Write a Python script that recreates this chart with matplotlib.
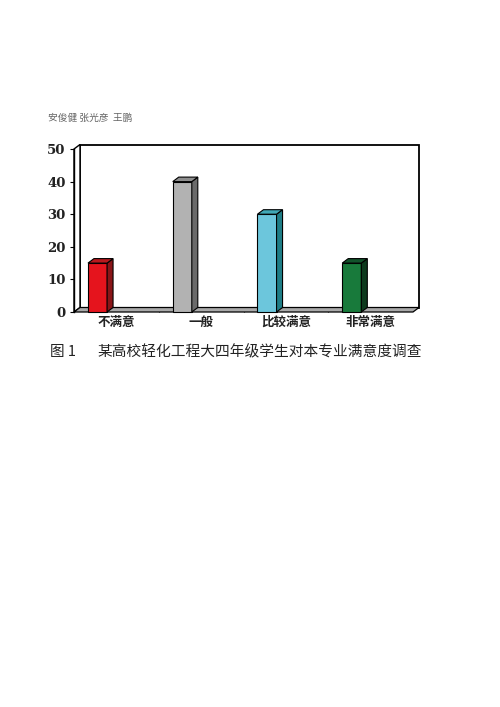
import matplotlib.pyplot as plt
from matplotlib.patches import Polygon, Rectangle

plt.rcParams['font.family'] = ['Noto Sans CJK SC', 'DejaVu Sans']

# data
categories = ['不满意', '一般', '比较满意', '非常满意']
values = [15, 40, 30, 15]
front_colors = ['#e5141d', '#b2b2b2', '#6cc6dc', '#187a3b']
side_colors = ['#8a1518', '#6a6a6a', '#1f7d86', '#0d3a1d']
top_colors = ['#b8191e', '#8e8e8e', '#40a8b6', '#12532b']
yticks = [0, 10, 20, 30, 40, 50]

fig = plt.figure(figsize=(5, 7.07), dpi=100)
W, H = 500, 707
ax = fig.add_axes([74 / W, (H - 312) / H, 339 / W, 163 / H])
ax.set_xlim(0, 4)
ax.set_ylim(0, 50)

# depth offset of the back plane (in data units)
dx = 6 / (339 / 4)
dy = 4.5 / (163 / 50)

# back wall, left wall, floor
ax.add_patch(Polygon([(dx, dy), (4 + dx, dy), (4 + dx, 50 + dy), (dx, 50 + dy)],
                     closed=True, fc='white', ec='black', lw=1.3, clip_on=False, zorder=1))
ax.add_patch(Polygon([(0, 0), (dx, dy), (dx, 50 + dy), (0, 50)],
                     closed=True, fc='white', ec='black', lw=1.0, clip_on=False, zorder=1))
ax.add_patch(Polygon([(0, 0), (4, 0), (4 + dx, dy), (dx, dy)],
                     closed=True, fc='#a9a9a9', ec='black', lw=0.9, clip_on=False, zorder=2))

# 3d-looking bars
bw = 0.225
for i, v in enumerate(values):
    x0 = i + 0.165
    ax.add_patch(Rectangle((x0, 0), bw, v, fc=front_colors[i], ec='black', lw=0.8,
                           clip_on=False, zorder=4))
    ax.add_patch(Polygon([(x0 + bw, 0), (x0 + bw + dx, dy), (x0 + bw + dx, v + dy), (x0 + bw, v)],
                         closed=True, fc=side_colors[i], ec='black', lw=0.8, clip_on=False, zorder=4))
    ax.add_patch(Polygon([(x0, v), (x0 + dx, v + dy), (x0 + bw + dx, v + dy), (x0 + bw, v)],
                         closed=True, fc=top_colors[i], ec='black', lw=0.8, clip_on=False, zorder=4))

for s in ['top', 'right', 'bottom']:
    ax.spines[s].set_visible(False)
ax.spines['left'].set_linewidth(1.0)
ax.patch.set_visible(False)

ax.set_yticks(yticks)
ax.set_yticklabels([str(t) for t in yticks], family='DejaVu Serif', fontweight='bold',
                   fontsize=9.5, color='#222222')
ax.tick_params(axis='y', length=3, width=0.8, pad=3)

ax.set_xticks([i + 0.5 for i in range(len(categories))])
ax.set_xticklabels(categories, fontweight='bold', fontsize=9, color='#222222')
ax.set_xticks([1, 2, 3], minor=True)
ax.tick_params(axis='x', which='major', length=0, pad=3)
ax.tick_params(axis='x', which='minor', length=2, width=0.8, direction='in')

fig.text(48 / W, 1 - 118 / H, '安俊健 张光彦  王鹏', fontsize=7, color='#666666', va='center')
fig.text(50 / W, 1 - 352 / H, '图 1', fontsize=10.5, color='#222222', va='center')
fig.text(97 / W, 1 - 352 / H, '某高校轻化工程大四年级学生对本专业满意度调查',
         fontsize=10.6, color='#222222', va='center')

fig.savefig('out.png', dpi=100)
